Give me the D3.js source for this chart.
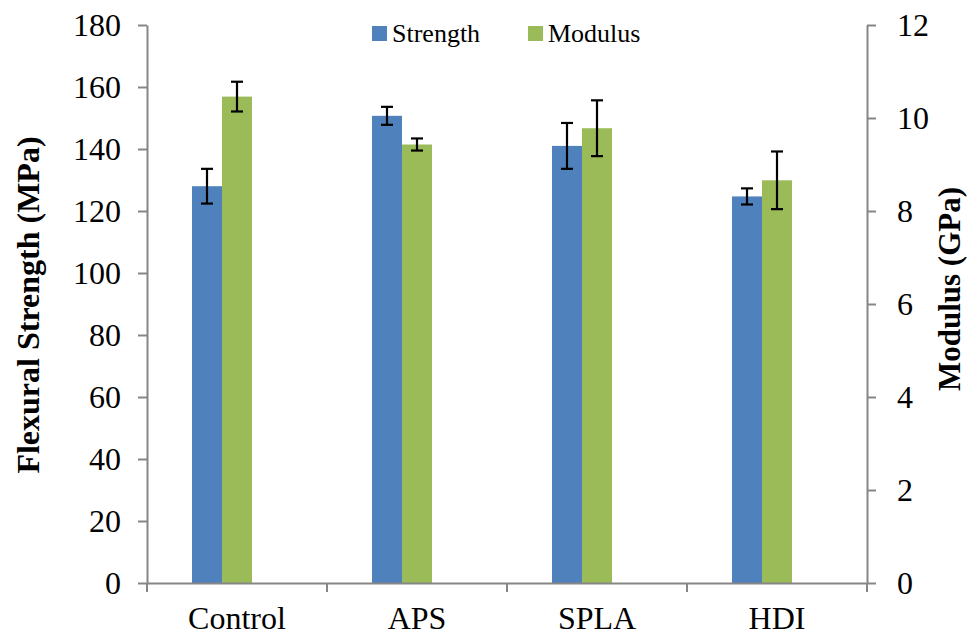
<!DOCTYPE html>
<html>
<head>
<meta charset="utf-8">
<script src="https://cdn.jsdelivr.net/npm/d3@7/dist/d3.min.js"></script>
</head>
<body style="margin:0">
<svg id="chart" width="968" height="636" font-family="Liberation Serif"></svg>
<script>
const categories = ["Control", "APS", "SPLA", "HDI"];
const strength = [128.0, 150.7, 141.0, 124.7];
const strengthErr = [5.6, 2.9, 7.4, 2.6];
const modulus = [10.46, 9.43, 9.78, 8.66];
const modulusErr = [0.32, 0.13, 0.60, 0.62];
const leftTicks = [0, 20, 40, 60, 80, 100, 120, 140, 160, 180];
const rightTicks = [0, 2, 4, 6, 8, 10, 12];
const seriesNames = ["Strength", "Modulus"];
const colors = ["#4F81BD", "#9BBB59"];

(function () {
const svg = d3.select("#chart");
const pL = 147, pR = 867, pT = 25, pB = 583;
const axisColor = "#868686";
const FF = "Liberation Serif";
function serifText(sel, size, weight) {
  sel.attr("font-family", FF).style("font-family", '"' + FF + '"')
     .attr("font-size", size).style("font-size", size + "px")
     .attr("font-weight", weight || "normal")
     .attr("fill", "#000");
  return sel;
}

const x = d3.scaleBand().domain(categories).range([pL, pR]).paddingInner(0).paddingOuter(0);
const yL = d3.scaleLinear().domain([0, 180]).range([pB, pT]);
const yR = d3.scaleLinear().domain([0, 12]).range([pB, pT]);

const bw = x.bandwidth();
const barW = bw / 6;
const off = bw * 0.25;

const g = svg.append("g");
categories.forEach((c, i) => {
  g.append("rect")
    .attr("x", x(c) + off).attr("y", yL(strength[i]))
    .attr("width", barW).attr("height", yL(0) - yL(strength[i]))
    .attr("fill", colors[0]);
  g.append("rect")
    .attr("x", x(c) + off + barW).attr("y", yR(modulus[i]))
    .attr("width", barW).attr("height", yR(0) - yR(modulus[i]))
    .attr("fill", colors[1]);
});

function errBar(cx, yTop, yBot) {
  const cap = 6;
  g.append("line").attr("x1", cx).attr("x2", cx).attr("y1", yTop).attr("y2", yBot)
    .attr("stroke", "#000").attr("stroke-width", 2.2);
  [yTop, yBot].forEach(yy => {
    g.append("line").attr("x1", cx - cap).attr("x2", cx + cap).attr("y1", yy).attr("y2", yy)
      .attr("stroke", "#000").attr("stroke-width", 2.2);
  });
}
categories.forEach((c, i) => {
  const cx1 = x(c) + off + barW / 2;
  errBar(cx1, yL(strength[i] + strengthErr[i]), yL(strength[i] - strengthErr[i]));
  const cx2 = x(c) + off + barW * 1.5;
  errBar(cx2, yR(modulus[i] + modulusErr[i]), yR(modulus[i] - modulusErr[i]));
});

function styleAxis(ax) {
  ax.attr("font-family", FF).attr("font-size", 32);
  ax.select(".domain").attr("stroke", axisColor).attr("stroke-width", 2);
  ax.selectAll(".tick line").attr("stroke", axisColor).attr("stroke-width", 2);
  serifText(ax.selectAll(".tick text"), 32);
}

const axL = svg.append("g").attr("transform", `translate(${pL},0)`)
  .call(d3.axisLeft(yL).tickValues(leftTicks).tickSize(9).tickSizeOuter(0).tickPadding(17));
styleAxis(axL);

const axR = svg.append("g").attr("transform", `translate(${pR},0)`)
  .call(d3.axisRight(yR).tickValues(rightTicks).tickSize(9).tickSizeOuter(0).tickPadding(21));
styleAxis(axR);

const axB = svg.append("g").attr("transform", `translate(0,${pB})`)
  .call(d3.axisBottom(x).tickSize(0).tickSizeOuter(0).tickPadding(23));
styleAxis(axB);
const bounds = categories.map(c => x(c)).concat([x(categories[categories.length - 1]) + bw]);
axB.selectAll(".bnd").data(bounds).enter().append("line")
  .attr("x1", d => d).attr("x2", d => d).attr("y1", 0).attr("y2", 9)
  .attr("stroke", axisColor).attr("stroke-width", 2);

serifText(svg.append("text"), 32, "bold")
  .attr("transform", `translate(39,${(pT + pB) / 2 + 1}) rotate(-90)`)
  .attr("text-anchor", "middle")
  .text("Flexural Strength (MPa)");
serifText(svg.append("text"), 31, "bold")
  .attr("transform", `translate(960,${(pT + pB) / 2 - 15}) rotate(-90)`)
  .attr("text-anchor", "middle")
  .text("Modulus (GPa)");

const legX = [372, 528];
seriesNames.forEach((n, i) => {
  svg.append("rect").attr("x", legX[i]).attr("y", 26).attr("width", 15).attr("height", 15).attr("fill", colors[i]);
  serifText(svg.append("text"), 26).attr("x", legX[i] + 20).attr("y", 42).text(n);
});
})();
</script>
</body>
</html>
